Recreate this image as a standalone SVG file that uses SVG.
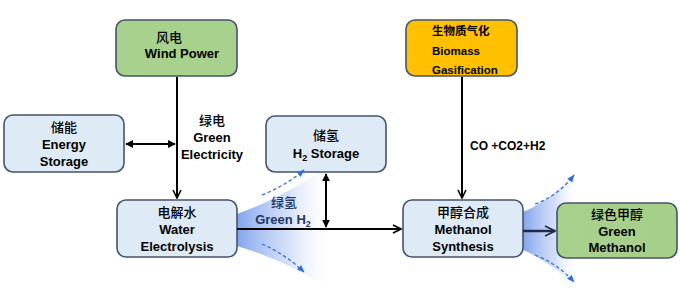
<svg xmlns="http://www.w3.org/2000/svg" width="680" height="307" viewBox="0 0 680 307">
<style>
.box{stroke:#44546A;stroke-width:1.6}
.blue{fill:#DEEBF7}
.t{font-family:"Liberation Sans",Arial,sans-serif;font-weight:bold;font-size:13px;fill:#000;text-anchor:middle}
.cn{font-family:"Noto Sans CJK SC","Liberation Sans",sans-serif;font-size:13px;font-weight:500;fill:#000;text-anchor:middle}
.ln{stroke:#000;stroke-width:2;fill:none}
.dash{stroke:#2F6FE0;stroke-width:1.3;stroke-dasharray:3.5,2.5;fill:none}
</style>
<defs>
<marker id="vee" viewBox="0 0 10 10" refX="9" refY="5" markerWidth="5" markerHeight="5" orient="auto-start-reverse" markerUnits="strokeWidth">
<path d="M1,1 L9,5 L1,9" fill="none" stroke="#000" stroke-width="1.6"/>
</marker>
<marker id="veen" viewBox="0 0 10 10" refX="9" refY="5" markerWidth="5" markerHeight="5" orient="auto" markerUnits="strokeWidth">
<path d="M1,1 L9,5 L1,9" fill="none" stroke="#1F2A44" stroke-width="1.4"/>
</marker>
<marker id="tri" viewBox="0 0 10 10" refX="9" refY="5" markerWidth="4" markerHeight="4" orient="auto-start-reverse" markerUnits="strokeWidth">
<path d="M0,0 L10,5 L0,10 Z" fill="#000"/>
</marker>
<marker id="bl" viewBox="0 0 10 10" refX="9" refY="5" markerWidth="6" markerHeight="6" orient="auto" markerUnits="strokeWidth">
<path d="M0,1 L10,5 L0,9 Z" fill="#2F6FE0"/>
</marker>
<linearGradient id="fan1" gradientUnits="userSpaceOnUse" x1="237" y1="0" x2="336" y2="0">
<stop offset="0" stop-color="#5A86E6" stop-opacity="0.75"/>
<stop offset="0.5" stop-color="#9AB6EF" stop-opacity="0.45"/>
<stop offset="1" stop-color="#FFFFFF" stop-opacity="0"/>
</linearGradient>
<linearGradient id="fan2" gradientUnits="userSpaceOnUse" x1="523" y1="0" x2="580" y2="0">
<stop offset="0" stop-color="#5A86E6" stop-opacity="0.75"/>
<stop offset="0.55" stop-color="#9AB6EF" stop-opacity="0.45"/>
<stop offset="1" stop-color="#FFFFFF" stop-opacity="0"/>
</linearGradient>
<linearGradient id="gm" x1="0" y1="0" x2="1" y2="0">
<stop offset="0" stop-color="#A9D18E"/>
<stop offset="1" stop-color="#A6CF8A"/>
</linearGradient>
</defs>

<g id="fans">
<path d="M237,214 Q290,195 336,160 L336,292 Q290,262 237,246 Z" fill="url(#fan1)"/>
<path d="M523,212 Q552,200 580,168 L580,292 Q552,262 523,250 Z" fill="url(#fan2)"/>
</g>

<g id="wind">
<rect class="box" x="116" y="20" width="121" height="56" rx="9" fill="#A9D18E"/>
<text class="cn" x="169" y="42">风电</text>
<text class="t" x="182" y="58">Wind Power</text>
</g>

<g id="energy-storage">
<rect class="box blue" x="4" y="115" width="120" height="57" rx="9"/>
<text class="cn" x="64" y="132">储能</text>
<text class="t" x="64" y="149">Energy</text>
<text class="t" x="64" y="166">Storage</text>
</g>

<g id="electrolysis">
<rect class="box blue" x="117" y="200" width="120" height="57" rx="9"/>
<text class="cn" x="177" y="217">电解水</text>
<text class="t" x="177" y="234">Water</text>
<text class="t" x="177" y="251">Electrolysis</text>
</g>

<g id="h2-storage">
<rect class="box blue" x="266" y="116" width="120" height="56" rx="9"/>
<text class="cn" x="326" y="140">储氢</text>
<text class="t" x="326" y="158">H<tspan font-size="9" dy="3">2</tspan><tspan dy="-3"> Storage</tspan></text>
</g>

<g id="biomass">
<rect class="box" x="406" y="20" width="111" height="56" rx="9" fill="#FFC000"/>
<text class="cn" x="432" y="35" style="text-anchor:start;font-size:11.5px;font-weight:bold">生物质气化</text>
<text class="t" x="432" y="55" style="text-anchor:start;font-size:11.5px">Biomass</text>
<text class="t" x="432" y="74" style="text-anchor:start;font-size:11.5px">Gasification</text>
</g>

<g id="methanol-synthesis">
<rect class="box blue" x="403" y="200" width="120" height="57" rx="9"/>
<text class="cn" x="463" y="217">甲醇合成</text>
<text class="t" x="463" y="234">Methanol</text>
<text class="t" x="463" y="251">Synthesis</text>
</g>

<g id="green-methanol">
<rect class="box" x="557" y="203" width="120" height="55" rx="9" fill="url(#gm)"/>
<text class="cn" x="617" y="219">绿色甲醇</text>
<text class="t" x="617" y="236">Green</text>
<text class="t" x="617" y="252">Methanol</text>
</g>

<g id="connectors">
<line class="ln" x1="177" y1="77" x2="177" y2="198" marker-end="url(#vee)"/>
<line class="ln" x1="126" y1="144" x2="175" y2="144" marker-start="url(#tri)" marker-end="url(#tri)"/>
<line class="ln" x1="237" y1="229" x2="401" y2="229" marker-end="url(#vee)"/>
<line class="ln" x1="326" y1="174" x2="326" y2="227" marker-start="url(#tri)" marker-end="url(#tri)"/>
<line class="ln" x1="462" y1="77" x2="462" y2="198" marker-end="url(#vee)"/>
<line x1="523" y1="231" x2="555" y2="231" stroke="#1F2A44" stroke-width="2.5" marker-end="url(#veen)"/>
<path class="dash" d="M262,195 Q285,186 304,170" marker-end="url(#bl)"/>
<path class="dash" d="M262,244 Q285,254 304,272" marker-end="url(#bl)"/>
<path class="dash" d="M535,204 Q558,196 574,175" marker-end="url(#bl)"/>
<path class="dash" d="M535,255 Q558,264 574,282" marker-end="url(#bl)"/>
</g>

<g id="labels">
<text class="cn" x="212" y="125">绿电</text>
<text class="t" x="212" y="142">Green</text>
<text class="t" x="212" y="159">Electricity</text>
<text class="cn" x="284" y="207" style="fill:#1F3864">绿氢</text>
<text class="t" x="283" y="224" style="fill:#1F3864">Green H<tspan font-size="9" dy="3">2</tspan></text>
<text class="t" x="470" y="150" style="text-anchor:start;font-size:12px">CO +CO2+H2</text>
</g>
</svg>
